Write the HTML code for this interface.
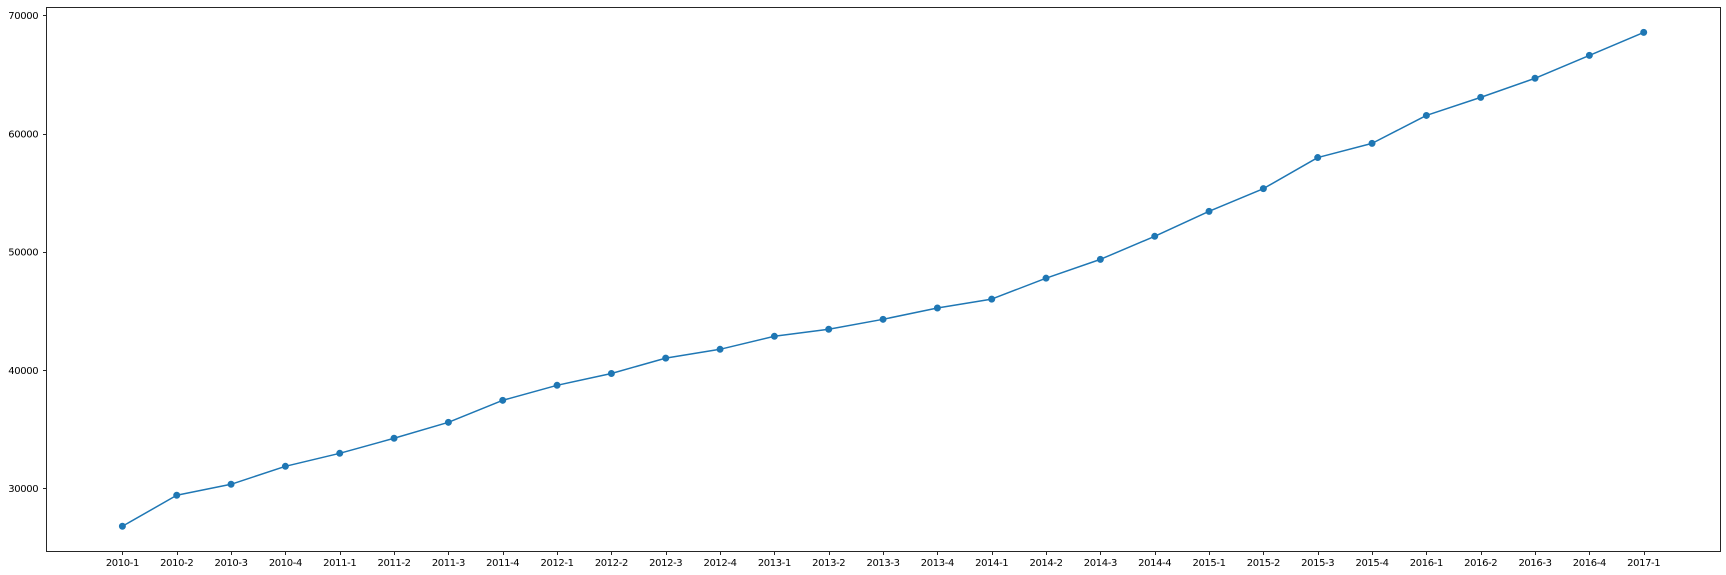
<!DOCTYPE html>
<html lang="en">
<head>
<meta charset="utf-8">
<title>Quarterly line chart</title>
<style>
  html, body { margin: 0; padding: 0; background: #ffffff; }
  body { width: 1726px; height: 575px; overflow: hidden; }
  svg { display: block; }
  text { font-family: "DejaVu Sans", "Liberation Sans", sans-serif; font-size: 10px; letter-spacing: -0.38px; fill: #000; }
</style>
</head>
<body>
<svg id="chart" width="1726" height="575" viewBox="0 0 1726 575" xmlns="http://www.w3.org/2000/svg">
  <rect x="0" y="0" width="1726" height="575" fill="#ffffff"></rect>
  <g id="x-axis"></g>
  <g id="y-axis"></g>
  <g id="series"></g>
  <rect x="46.5" y="7.5" width="1674" height="544" fill="none" stroke="#262626" stroke-width="1"></rect>
</svg>
<script>
const categories = ["2010-1","2010-2","2010-3","2010-4","2011-1","2011-2","2011-3","2011-4","2012-1","2012-2","2012-3","2012-4","2013-1","2013-2","2013-3","2013-4","2014-1","2014-2","2014-3","2014-4","2015-1","2015-2","2015-3","2015-4","2016-1","2016-2","2016-3","2016-4","2017-1"];
const seriesValues = [26790,29410,30340,31860,32960,34230,35580,37440,38710,39710,41010,41755,42855,43450,44290,45250,46000,47770,49360,51310,53420,55340,57970,59170,61530,63060,64675,66610,68555];
const yTickValues = [30000,40000,50000,60000,70000];

const SVG_NS = "http://www.w3.org/2000/svg";
const xAxisGroup = document.getElementById("x-axis");
const yAxisGroup = document.getElementById("y-axis");
const seriesGroup = document.getElementById("series");

const plotLeft = 46.5, plotRight = 1720.5, plotTop = 7.5, plotBottom = 551.5;
const firstX = 122.4, lastX = 1643.7;
const y30k = 488.3, y70k = 15.3;

function xScale(i) {
  return firstX + (lastX - firstX) * i / (categories.length - 1);
}
function yScale(v) {
  return y30k + (y70k - y30k) * (v - 30000) / 40000;
}
function make(tag, attrs) {
  const el = document.createElementNS(SVG_NS, tag);
  for (const k in attrs) el.setAttribute(k, attrs[k]);
  return el;
}

categories.forEach(function (label, i) {
  const x = Math.round(xScale(i)) + 0.5;
  const tick = make("line", { x1: x, x2: x, y1: plotBottom, y2: plotBottom + 3.5, stroke: "#262626", "stroke-width": 1 });
  
  
  xAxisGroup.appendChild(tick);
  const text = make("text", { x: xScale(i), y: 566, "text-anchor": "middle" });
  
  
  text.textContent = label;
  xAxisGroup.appendChild(text);
});

yTickValues.forEach(function (v) {
  const y = Math.round(yScale(v)) + 0.5;
  const tick = make("line", { x1: plotLeft - 3.5, x2: plotLeft, y1: y, y2: y, stroke: "#262626", "stroke-width": 1 });
  
  
  yAxisGroup.appendChild(tick);
  const text = make("text", { x: 38.2, y: yScale(v) + 3.8, "text-anchor": "end" });
  
  
  text.textContent = String(v);
  yAxisGroup.appendChild(text);
});

const linePoints = seriesValues.map(function (v, i) {
  return xScale(i).toFixed(2) + "," + yScale(v).toFixed(2);
}).join(" ");
const line = make("polyline", { points: linePoints, fill: "none", stroke: "#1f77b4", "stroke-width": 1.5, "stroke-linejoin": "round" });


seriesGroup.appendChild(line);

seriesValues.forEach(function (v, i) {
  const point = make("circle", { cx: xScale(i), cy: yScale(v), r: 3, fill: "#1f77b4", stroke: "#1f77b4", "stroke-width": 1 });
  
  
  seriesGroup.appendChild(point);
});
</script>
</body>
</html>
